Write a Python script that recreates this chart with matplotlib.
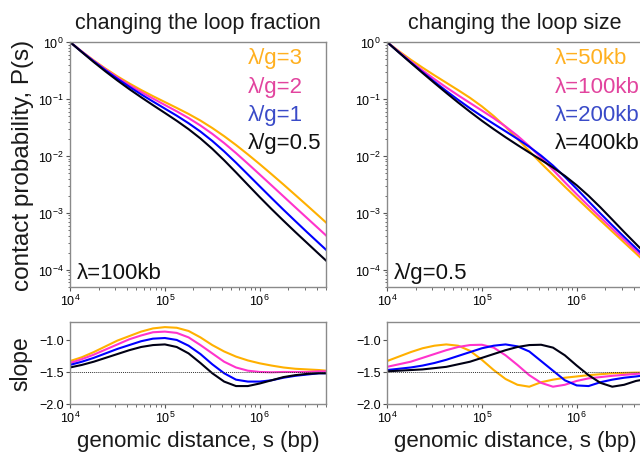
import numpy as np
import matplotlib
matplotlib.use('Agg')
import matplotlib.pyplot as plt

# 字体设置
plt.rcParams['font.family'] = ['Liberation Sans', 'DejaVu Sans']
plt.rcParams['mathtext.default'] = 'regular'

# genomic distance grid (log10 s, bp)
log_s = np.array([4.0, 4.125, 4.25, 4.375, 4.5, 4.625, 4.75, 4.875, 5.0, 5.125, 5.25,
                  5.375, 5.5, 5.625, 5.75, 5.875, 6.0, 6.125, 6.25, 6.375, 6.5, 6.625, 6.7])

# ---- left column: changing the loop fraction (lambda = 100kb) ----
frac_labels = ['λ/g=3', 'λ/g=2', 'λ/g=1', 'λ/g=0.5']

# log10 P(s)
frac_logp_3 = [0, -0.166, -0.322, -0.468, -0.603, -0.727, -0.843, -0.951, -1.054, -1.157, -1.263,
               -1.379, -1.510, -1.653, -1.808, -1.973, -2.144, -2.321, -2.501, -2.685, -2.870, -3.057, -3.170]
frac_logp_2 = [0, -0.169, -0.330, -0.482, -0.624, -0.756, -0.878, -0.993, -1.105, -1.217, -1.335,
               -1.466, -1.612, -1.774, -1.950, -2.136, -2.326, -2.517, -2.709, -2.901, -3.092, -3.282, -3.397]
frac_logp_1 = [0, -0.173, -0.339, -0.497, -0.646, -0.786, -0.919, -1.045, -1.169, -1.293, -1.426,
               -1.572, -1.737, -1.920, -2.118, -2.325, -2.533, -2.740, -2.944, -3.143, -3.340, -3.533, -3.648]
frac_logp_05 = [0, -0.178, -0.352, -0.518, -0.676, -0.827, -0.970, -1.109, -1.245, -1.383, -1.530,
                -1.693, -1.875, -2.076, -2.289, -2.507, -2.723, -2.933, -3.136, -3.335, -3.529, -3.723, -3.838]

# slope dlogP/dlogs
frac_slope_3 = [-1.33, -1.27, -1.19, -1.10, -1.01, -0.94, -0.87, -0.82, -0.80, -0.81, -0.86, -0.96,
                -1.08, -1.18, -1.26, -1.32, -1.365, -1.40, -1.43, -1.45, -1.46, -1.47, -1.48]
frac_slope_2 = [-1.36, -1.30, -1.23, -1.15, -1.07, -0.99, -0.93, -0.88, -0.87, -0.89, -0.96, -1.08,
                -1.21, -1.34, -1.43, -1.48, -1.50, -1.505, -1.50, -1.50, -1.50, -1.49, -1.49]
frac_slope_1 = [-1.39, -1.34, -1.28, -1.21, -1.14, -1.08, -1.02, -0.98, -0.97, -1.00, -1.09, -1.22,
                -1.38, -1.52, -1.62, -1.65, -1.65, -1.63, -1.59, -1.56, -1.54, -1.52, -1.52]
frac_slope_05 = [-1.43, -1.39, -1.34, -1.28, -1.22, -1.16, -1.11, -1.08, -1.07, -1.11, -1.21, -1.36,
                 -1.52, -1.65, -1.72, -1.72, -1.68, -1.63, -1.58, -1.55, -1.53, -1.52, -1.52]

# ---- right column: changing the loop size (lambda/g = 0.5) ----
size_labels = ['λ=50kb', 'λ=100kb', 'λ=200kb', 'λ=400kb']

size_logp_50 = [0, -0.160, -0.310, -0.450, -0.585, -0.715, -0.845, -0.980, -1.130, -1.300, -1.490,
                -1.700, -1.915, -2.130, -2.335, -2.540, -2.740, -2.938, -3.133, -3.327, -3.520, -3.712, -3.830]
size_logp_100 = [0, -0.172, -0.340, -0.500, -0.652, -0.797, -0.936, -1.070, -1.203, -1.338, -1.483,
                 -1.645, -1.828, -2.030, -2.245, -2.462, -2.673, -2.878, -3.079, -3.277, -3.473, -3.667, -3.783]
size_logp_200 = [0, -0.180, -0.357, -0.530, -0.698, -0.860, -1.015, -1.163, -1.303, -1.437, -1.568,
                 -1.700, -1.840, -1.995, -2.170, -2.367, -2.578, -2.796, -3.010, -3.218, -3.421, -3.620, -3.740]
size_logp_400 = [0, -0.184, -0.365, -0.544, -0.720, -0.893, -1.062, -1.225, -1.382, -1.530, -1.672,
                 -1.808, -1.940, -2.070, -2.204, -2.350, -2.515, -2.700, -2.903, -3.118, -3.335, -3.546, -3.672]

size_slope_50 = [-1.33, -1.26, -1.19, -1.13, -1.09, -1.07, -1.09, -1.17, -1.31, -1.47, -1.61, -1.70,
                 -1.73, -1.66, -1.62, -1.59, -1.57, -1.55, -1.535, -1.52, -1.515, -1.51, -1.51]
size_slope_100 = [-1.42, -1.38, -1.34, -1.28, -1.22, -1.16, -1.11, -1.08, -1.075, -1.12, -1.24, -1.39,
                  -1.55, -1.67, -1.73, -1.70, -1.64, -1.60, -1.58, -1.56, -1.545, -1.53, -1.52]
size_slope_200 = [-1.47, -1.45, -1.43, -1.40, -1.36, -1.31, -1.25, -1.19, -1.13, -1.09, -1.07, -1.10,
                  -1.18, -1.33, -1.48, -1.63, -1.71, -1.72, -1.66, -1.62, -1.59, -1.57, -1.555]
size_slope_400 = [-1.49, -1.48, -1.47, -1.46, -1.44, -1.42, -1.38, -1.34, -1.28, -1.22, -1.16, -1.11,
                  -1.08, -1.075, -1.12, -1.24, -1.40, -1.55, -1.67, -1.73, -1.70, -1.64, -1.62]

line_colors = ['#FFB000', '#FF33CC', '#0000FF', '#000014']
text_colors = ['#FFB020', '#E2449E', '#3A4BC8', '#111111']


def style_axes(ax):
    for sp in ax.spines.values():
        sp.set_color('#8a8a8a')
        sp.set_linewidth(1.0)
    ax.tick_params(which='major', length=3, width=0.8, color='#555555', labelsize=9, pad=1.5)
    ax.tick_params(which='minor', length=1.8, width=0.6, color='#555555')


def draw_column(x0, title, logp_list, slope_list, labels, label_x, note):
    s = 10 ** log_s
    ax_top = fig.add_axes([x0, 1 - 288 / 464, 256 / 640, 245 / 464])
    ax_bot = fig.add_axes([x0, 1 - 405 / 464, 256 / 640, 82 / 464])

    for lp, c in zip(logp_list, line_colors):
        ax_top.plot(s, 10 ** np.array(lp), color=c, lw=1.5)
    ax_top.set_xscale('log')
    ax_top.set_yscale('log')
    ax_top.set_xlim(1e4, 5e6)
    ax_top.set_ylim(5e-5, 1)
    ax_top.set_title(title, fontsize=15.5, pad=10, color='#1a1a1a')
    style_axes(ax_top)

    # 彩色图例文字
    for i, (lab, c) in enumerate(zip(labels, text_colors)):
        ax_top.text(label_x, 0.935 - i * 0.115, lab, color=c, fontsize=16,
                    transform=ax_top.transAxes, ha='left', va='center')
    ax_top.text(0.027, 0.061, note, fontsize=16, transform=ax_top.transAxes,
                ha='left', va='center', color='#111111')

    for sl, c in zip(slope_list, line_colors):
        ax_bot.plot(s, sl, color=c, lw=1.5)
    ax_bot.axhline(-1.5, color='#333333', lw=0.7, ls=(0, (1, 1)))
    ax_bot.set_xscale('log')
    ax_bot.set_xlim(1e4, 5e6)
    ax_bot.set_ylim(-2.0, -0.72)
    ax_bot.set_yticks([-2.0, -1.5, -1.0])
    ax_bot.set_xlabel('genomic distance, s (bp)', fontsize=16, labelpad=3, color='#1a1a1a')
    style_axes(ax_bot)
    return ax_top, ax_bot


fig = plt.figure(figsize=(6.4, 4.64), dpi=100)

ax1, ax2 = draw_column(70 / 640, 'changing the loop fraction',
                       [frac_logp_3, frac_logp_2, frac_logp_1, frac_logp_05],
                       [frac_slope_3, frac_slope_2, frac_slope_1, frac_slope_05],
                       frac_labels, 0.695, 'λ=100kb')
ax1.set_ylabel('contact probability, P(s)', fontsize=17.5, labelpad=3, color='#1a1a1a')
ax2.set_ylabel('slope', fontsize=16.5, labelpad=5, color='#1a1a1a')

draw_column(387 / 640, 'changing the loop size',
            [size_logp_50, size_logp_100, size_logp_200, size_logp_400],
            [size_slope_50, size_slope_100, size_slope_200, size_slope_400],
            size_labels, 0.656, 'λ/g=0.5')

plt.savefig('out.png', dpi=100)
